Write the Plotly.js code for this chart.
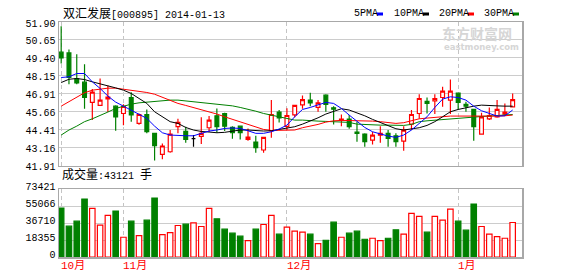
<!DOCTYPE html>
<html><head><meta charset="utf-8">
<script src="https://cdn.plot.ly/plotly-3.0.1.min.js"></script>
<style>html,body{margin:0;padding:0;background:#fff}#chart{width:578px;height:276px}</style>
</head><body><div id="chart"></div>
<script>
// ---- data ----
const stockName = '双汇发展';
const stockCode = '000895';
const chartDate = '2014-01-13';
const volumeLabel = '成交量';
const volumeUnit = '手';
const lastVolume = 43121;

const openP  = [49.80,49.75,47.95,47.72,46.31,46.10,46.56,46.05,45.54,46.65,44.85,45.47,44.16,42.70,42.88,44.62,44.29,43.79,43.95,44.55,45.38,45.54,44.57,44.66,43.74,43.55,43.00,44.34,45.64,44.64,45.45,46.14,46.47,45.96,46.81,45.94,45.08,45.15,44.25,44.11,43.69,44.04,44.16,43.99,43.62,44.80,45.54,46.38,46.42,46.65,46.47,46.95,46.17,45.82,44.11,45.17,45.31,45.50,46.00];
const highP  = [51.60,49.98,49.66,48.97,47.25,47.97,47.49,46.12,46.19,47.02,45.54,45.82,44.16,43.46,44.39,45.17,44.62,44.04,45.27,45.36,45.89,45.59,44.66,44.66,44.50,43.99,43.92,46.47,45.78,45.91,46.14,46.79,46.98,46.47,46.88,46.05,45.47,45.43,44.97,44.16,44.27,44.66,44.39,44.16,44.66,45.78,46.88,46.65,46.88,47.39,47.90,46.95,46.35,45.82,45.59,45.96,46.47,46.24,46.93];
const lowP   = [49.01,47.58,47.58,45.87,45.08,46.10,45.64,44.34,44.73,44.97,44.76,44.16,42.28,42.35,42.81,44.16,43.51,43.23,43.42,44.25,44.20,44.32,43.79,43.74,43.65,42.81,42.81,43.85,44.92,44.39,45.27,45.87,46.05,45.66,45.66,44.78,44.66,44.48,43.58,43.23,43.39,43.51,43.23,43.23,42.95,44.39,45.17,45.54,45.50,46.00,45.50,45.82,45.66,43.65,44.11,45.08,45.24,45.36,45.96];
const closeP = [49.41,48.04,47.67,46.65,47.02,46.47,46.68,45.31,46.03,45.45,45.47,44.27,43.30,43.28,44.11,44.92,43.74,43.79,44.16,45.08,44.62,44.66,44.20,44.20,43.90,43.16,43.88,45.47,45.24,45.40,46.10,46.51,46.28,46.28,46.17,45.84,45.15,44.62,44.16,43.58,44.04,44.16,43.81,43.58,44.39,45.47,46.58,46.24,46.58,47.09,47.09,46.31,46.05,44.62,45.31,45.40,45.82,45.64,46.51];
const volume = [53068,33440,38892,62881,52703,34530,45071,49796,21445,38892,23262,39982,63972,24353,26534,34167,35621,37075,33076,52703,41436,30168,25807,22536,17810,30168,35257,45071,24717,32349,27988,26898,24717,14539,18174,37802,21445,25807,27988,19264,20354,17810,20354,29441,24717,47252,43981,26898,43981,39982,51976,38892,29078,57429,33076,24717,22172,20354,37438];

const ma5  = [48.04,48.09,48.32,48.32,47.74,47.28,46.75,46.33,46.05,45.78,45.52,45.20,44.66,44.20,44.04,43.99,43.99,43.99,44.16,44.32,44.39,44.50,44.53,44.50,44.34,44.16,44.16,44.27,44.46,44.73,45.31,45.82,45.96,46.12,46.31,46.24,45.89,45.43,44.97,44.57,44.27,44.11,43.97,43.88,44.04,44.39,44.85,45.31,45.96,46.54,46.70,46.65,46.47,46.05,45.73,45.54,45.36,45.38,45.78];
const ma10 = [47.69,47.92,47.97,47.90,47.74,47.62,47.46,47.32,47.16,46.93,46.58,46.24,45.66,45.31,44.97,44.85,44.57,44.39,44.29,44.25,44.20,44.23,44.32,44.39,44.39,44.34,44.32,44.34,44.43,44.50,44.62,44.80,45.01,45.24,45.50,45.70,45.87,45.78,45.59,45.38,45.13,44.90,44.66,44.48,44.39,44.46,44.55,44.71,44.97,45.31,45.66,45.82,45.96,46.05,46.12,46.12,46.07,46.05,46.05];
const ma20 = [46.05,46.35,46.65,46.98,47.16,47.25,47.30,47.30,47.23,47.12,47.07,47.00,46.88,46.65,46.42,46.24,46.10,45.96,45.82,45.66,45.50,45.31,45.13,44.94,44.76,44.57,44.43,44.36,44.36,44.36,44.39,44.55,44.66,44.78,44.94,45.03,45.06,45.06,45.03,45.03,45.01,44.97,44.90,44.85,44.90,45.03,45.17,45.22,45.27,45.31,45.36,45.36,45.36,45.31,45.31,45.34,45.36,45.38,45.43];
const ma30 = [44.04,44.39,44.66,44.97,45.17,45.43,45.64,45.89,46.05,46.19,46.28,46.33,46.38,46.45,46.47,46.47,46.42,46.35,46.28,46.24,46.19,46.14,46.07,45.96,45.84,45.70,45.54,45.43,45.31,45.20,45.08,45.08,45.03,45.01,44.99,44.97,44.94,44.92,44.80,44.76,44.73,44.73,44.73,44.71,44.71,44.78,44.97,45.03,45.08,45.13,45.15,45.20,45.24,45.29,45.33,45.36,45.40,45.43,45.47];

const maNames  = ['5PMA','10PMA','20PMA','30PMA'];
const maColors = ['#0000ff','#000000','#ff0000','#008000'];

const priceTicks    = [41.91,43.16,44.41,45.66,46.91,48.15,49.40,50.65,51.90];
const priceTickText = ['41.91','43.16','44.41','45.66','46.91','48.15','49.40','50.65','51.90'];
const volTicks      = [0,18355,36710,55066,73421];
const volTickText   = ['0','18355','36710','55066','73421'];
const monthIdx      = [0,8,29,51];
const monthLabels   = ['10月','11月','12月','1月'];

// ---- drawing ----
const W = 578, H = 276;
const M = {l:59, r:56, t:22, b:19};
const PW = W - M.l - M.r, PH = H - M.t - M.b;
const px2x = px => (px - M.l) / PW;
const py2y = py => (H - M.b - py) / PH;

const UP = '#ff0000', DOWN = '#008000';
const xIdx = openP.map((_, i) => i);
const isDoji = xIdx.map(i => closeP[i] === openP[i]);
const mainI = xIdx.filter(i => !isDoji[i]);
const dojiI = xIdx.filter(i => isDoji[i]);
const pick = (arr, ids) => ids.map(i => arr[i]);

const traces = [];
[ma30, ma20, ma10, ma5].forEach((ma, k) => {
  const idx = 3 - k;
  traces.push({type:'scatter', mode:'lines', x:xIdx, y:ma, xaxis:'x', yaxis:'y',
    line:{color:maColors[idx], width:1}, hoverinfo:'skip', showlegend:false});
});
traces.push({type:'candlestick', x:mainI, open:pick(openP,mainI), high:pick(highP,mainI),
  low:pick(lowP,mainI), close:pick(closeP,mainI), xaxis:'x', yaxis:'y', whiskerwidth:0,
  increasing:{line:{color:UP, width:1.2}, fillcolor:'rgba(255,255,255,1)'},
  decreasing:{line:{color:DOWN, width:1.2}, fillcolor:DOWN},
  hoverinfo:'skip', showlegend:false});
traces.push({type:'candlestick', x:dojiI, open:pick(openP,dojiI), high:pick(highP,dojiI),
  low:pick(lowP,dojiI), close:pick(closeP,dojiI), xaxis:'x', yaxis:'y', whiskerwidth:0,
  increasing:{line:{color:'#000', width:1.2}, fillcolor:'#000'},
  decreasing:{line:{color:'#000', width:1.2}, fillcolor:'#000'},
  hoverinfo:'skip', showlegend:false});
const upDay = xIdx.map(i => closeP[i] >= openP[i]);
traces.push({type:'bar', x:xIdx, y:volume, xaxis:'x', yaxis:'y2', width:0.7,
  marker:{color:upDay.map(u => u ? '#ffffff' : DOWN),
          line:{color:upDay.map(u => u ? UP : DOWN), width:1.2}},
  hoverinfo:'skip', showlegend:false});

const mono = "'Liberation Mono','Noto Sans CJK SC', monospace";
const cjk = s => `<span style="font-size:12px">${s}</span>`;
const annotations = [
  {xref:'paper', yref:'paper', x:px2x(61), y:py2y(14), xanchor:'left', yanchor:'middle', showarrow:false,
   text:`${cjk(stockName)}[${stockCode}] ${chartDate}`, font:{family:mono, size:10, color:'#000'}},
  {xref:'paper', yref:'paper', x:px2x(60), y:py2y(175), xanchor:'left', yanchor:'middle', showarrow:false,
   text:`${cjk(volumeLabel)}:${lastVolume} ${cjk(volumeUnit)}`, font:{family:mono, size:10, color:'#000'}},
  {xref:'paper', yref:'paper', x:px2x(477), y:py2y(32.5), xanchor:'center', yanchor:'middle', showarrow:false,
   text:'<b>东方财富网</b>', font:{family:"'Noto Sans CJK SC'", size:14, color:'#d6d6d6'}},
  {xref:'paper', yref:'paper', x:px2x(481), y:py2y(46.5), xanchor:'center', yanchor:'middle', showarrow:false,
   text:'<b>eastmoney.com</b>', font:{family:"'DejaVu Sans'", size:8.5, color:'#d6d6d6'}}
];
monthIdx.forEach((m, k) => annotations.push({xref:'x', yref:'paper', x:m, xshift:-2, y:py2y(266),
  xanchor:'left', yanchor:'middle', showarrow:false, text:monthLabels[k],
  font:{family:mono, size:11, color:'#ff0000'}}));

const shapes = [];
const legendX = [352, 392, 437, 482];
maNames.forEach((n, k) => {
  annotations.push({xref:'paper', yref:'paper', x:px2x(legendX[k]), y:py2y(14), xanchor:'left', yanchor:'middle',
    showarrow:false, text:n, font:{family:mono, size:10, color:'#000'}});
  const sx = legendX[k] + n.length * 6 + 1;
  shapes.push({type:'rect', xref:'paper', yref:'paper', x0:px2x(sx), x1:px2x(sx + 6),
    y0:py2y(15.5), y1:py2y(12.5), fillcolor:maColors[k], line:{width:0}});
});

const axisCommon = {showline:true, mirror:'all', linecolor:'#a8a8a8', linewidth:1.5, zeroline:false, ticks:'',
  fixedrange:true};
const layout = {
  width:W, height:H, margin:M, paper_bgcolor:'#fff', plot_bgcolor:'#fff', showlegend:false,
  xaxis: Object.assign({}, axisCommon, {anchor:'y2', range:[-0.28, 59.2], tickvals:monthIdx,
    showticklabels:false, showgrid:true, gridcolor:'#c4c4c4', griddash:'4px,3px', gridwidth:1,
    rangeslider:{visible:false}}),
  yaxis: Object.assign({}, axisCommon, {domain:[py2y(165.7), 1], range:[41.91, 51.90],
    tickvals:priceTicks, ticktext:priceTickText, showgrid:true, gridcolor:'#cccccc', gridwidth:1,
    tickfont:{family:mono, size:10, color:'#000'}, ticklabelshift:1}),
  yaxis2: Object.assign({}, axisCommon, {domain:[0, py2y(189.3)], range:[0, 73421],
    tickvals:volTicks, ticktext:volTickText, showgrid:true, gridcolor:'#cccccc', gridwidth:1,
    tickfont:{family:mono, size:10, color:'#000'}, ticklabelshift:-3}),
  annotations, shapes
};
Plotly.newPlot('chart', traces, layout, {staticPlot:true, displayModeBar:false});
</script></body></html>
